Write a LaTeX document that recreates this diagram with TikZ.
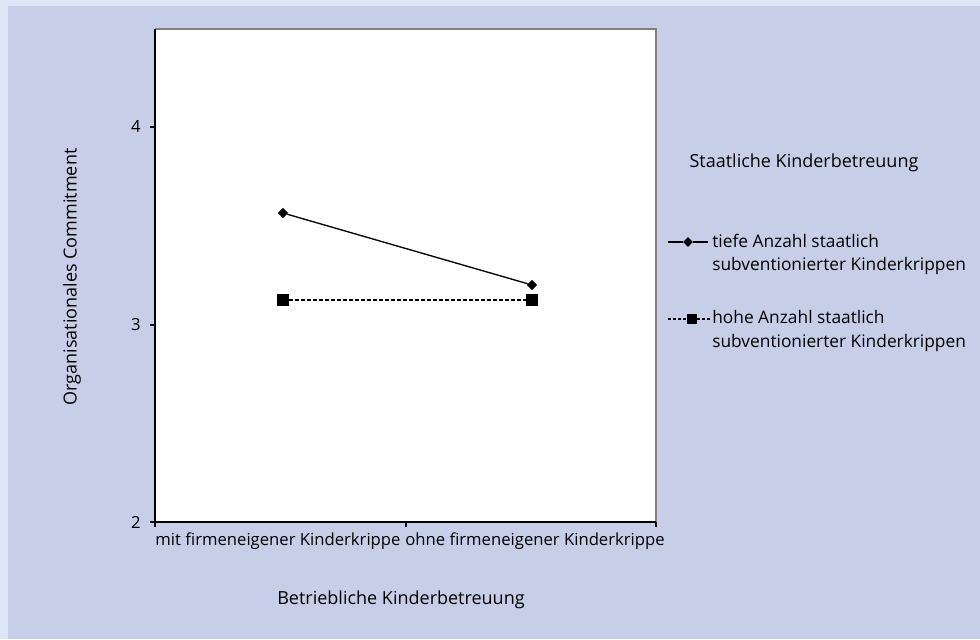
\documentclass[tikz,border=0pt]{standalone}
\usepackage{fontspec}
\setmainfont{Open Sans}
\usepackage{tikz}
\usetikzlibrary{positioning,shapes.geometric,calc}
\usepackage{xcolor}
\definecolor{bgout}{HTML}{DEE7F5}
\definecolor{bgin}{HTML}{C6CFE7}
\definecolor{fgray}{HTML}{808080}
\tikzstyle{lbl} = [inner sep=0pt, font=\fontsize{13.5}{17.3}\selectfont]
\tikzstyle{cat} = [inner sep=0pt, font=\fontsize{12.5}{15}\selectfont]
\tikzstyle{leg} = [inner sep=0pt, align=left, anchor=west, font=\fontsize{13}{17.3}\selectfont]
\tikzstyle{dia} = [diamond, fill=black, inner sep=0pt, minimum size=8pt]
\tikzstyle{sq} = [rectangle, fill=black, inner sep=0pt, minimum size=8pt]
\tikzstyle{series} = [line width=1pt]

\begin{document}
\begin{tikzpicture}[x=0.75pt, y=-0.75pt]
\useasboundingbox (0,0) rectangle (980,639);
\fill[bgout] (0,0) rectangle (980,639);
\fill[bgin] (8,6) rectangle (980,639);
% plot area
\fill[white] (155,29) rectangle (656,522);
\draw[fgray, line width=1.5pt] (155,29) -- (656,29) -- (656,522);
\coordinate (orig) at (155,522);
\coordinate (ytop) at (155,29);
\coordinate (xend) at (656,522);
\draw[line width=1pt] (ytop) -- (orig) -- (xend);
% y ticks
\foreach \v/\py in {4/127, 3/325, 2/522}{
  \draw[line width=1pt] (150,\py) -- (155,\py);
  \node[cat, anchor=east] (ytick\v) at (141,\py) {\v};
}
% x ticks
\foreach \px in {155, 406, 656}
  \draw[line width=1pt] (\px,522) -- (\px,527);
\node[cat] (xmit) at (278,541) {mit firmeneigener Kinderkrippe};
\node[cat] (xohne) at (535,541) {ohne firmeneigener Kinderkrippe};
% axis titles
\node[lbl, rotate=90] (ytitle) at (72,277) {Organisationales Commitment};
\node[lbl] (xtitle) at (401,600) {Betriebliche Kinderbetreuung};
% data
\node[dia] (tief1) at (283,213) {};
\node[dia] (tief2) at (532,285) {};
\node[sq, minimum size=9pt] (hoch1) at (283,300) {};
\node[sq, minimum size=9pt] (hoch2) at (532,300) {};
\draw[series] (tief1) -- (tief2);
\draw[series, dash pattern=on 3pt off 1.5pt] (hoch1) -- (hoch2);
% legend
\node[lbl] (legtitle) at (804,163) {Staatliche Kinderbetreuung};
\coordinate (l1a) at (668,242);
\coordinate (l1b) at (708,242);
\node[dia, minimum size=7.5pt] (l1m) at (688,242) {};
\draw[series] (l1a) -- (l1m) -- (l1b);
\node[leg] (l1txt) at (712,254) {tiefe Anzahl staatlich\\subventionierter Kinderkrippen};
\coordinate (l2a) at (668,319);
\coordinate (l2b) at (710,319);
\node[sq, minimum size=7.5pt] (l2m) at (692,319) {};
\draw[series, dash pattern=on 2.2pt off 1.5pt] (l2a) -- (l2m) -- (l2b);
\node[leg] (l2txt) at (712,331) {hohe Anzahl staatlich\\subventionierter Kinderkrippen};
\end{tikzpicture}
\end{document}
